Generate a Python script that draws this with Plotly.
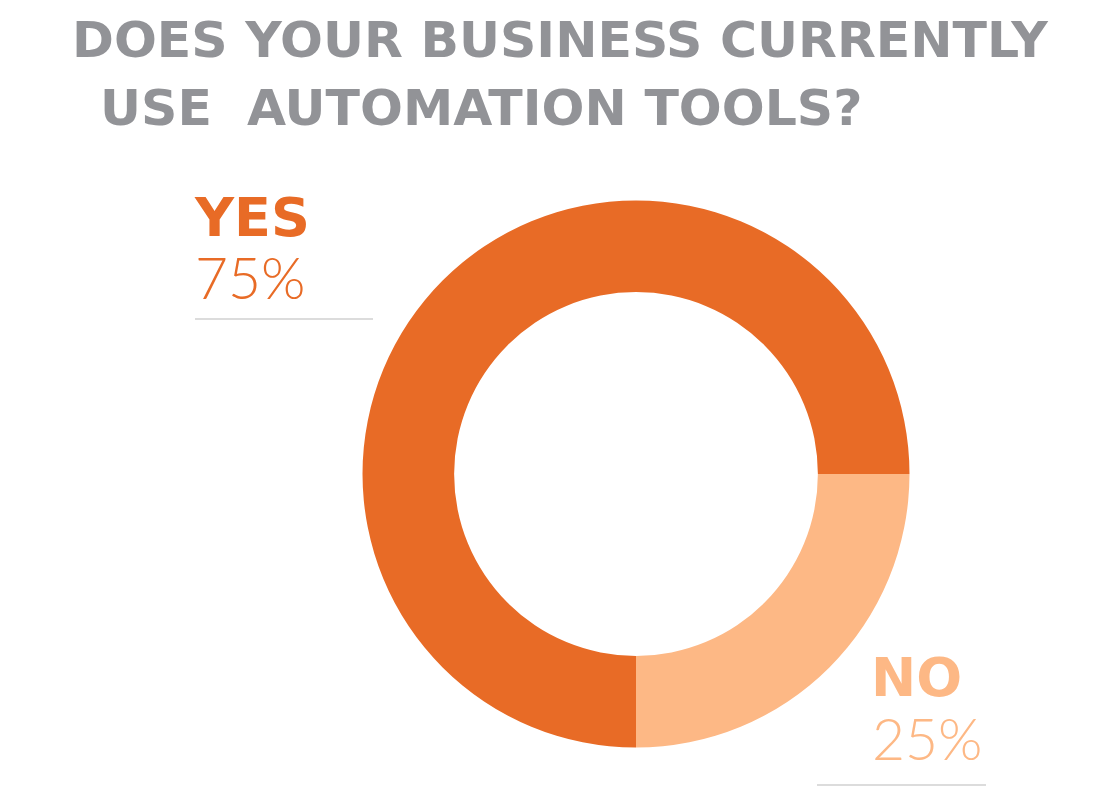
import plotly.graph_objects as go

labels = ["NO", "YES"]
values = [25, 75]
colors = ["#FDB885", "#E86B26"]
title_lines = ["DOES YOUR BUSINESS CURRENTLY", "USE  AUTOMATION TOOLS?"]

W, H = 1110, 792

def px(x):
    return x / W

def py(y):
    return 1 - y / H

fig = go.Figure()

fig.add_trace(go.Pie(
    labels=labels,
    values=values,
    hole=0.665,
    sort=False,
    direction="clockwise",
    rotation=90,
    marker=dict(colors=colors, line=dict(width=0)),
    textinfo="none",
    hoverinfo="label+percent",
    showlegend=False,
    domain=dict(x=[px(362.5), px(909.5)], y=[py(748), py(200)]),
))

title_font = dict(family="DejaVu Sans", size=50.5, color="#929397", weight="bold")
head_font = "DejaVu Sans"
pct_font = "Lato"

# title, two lines
fig.add_annotation(x=px(70), y=py(40), text=title_lines[0], showarrow=False,
                   xanchor="left", yanchor="middle", xref="paper", yref="paper",
                   font=title_font)
fig.add_annotation(x=px(98), y=py(107), text=title_lines[1], showarrow=False,
                   xanchor="left", yanchor="middle", xref="paper", yref="paper",
                   font=title_font)

# slice labels
fig.add_annotation(x=px(192), y=py(217), text=labels[1], showarrow=False,
                   xanchor="left", yanchor="middle", xref="paper", yref="paper",
                   font=dict(family=head_font, size=54, color=colors[1], weight="bold"))
fig.add_annotation(x=px(193), y=py(277), text=f"{values[1]}%", showarrow=False,
                   xanchor="left", yanchor="middle", xref="paper", yref="paper",
                   font=dict(family=pct_font, size=57, color=colors[1], weight=300))
fig.add_annotation(x=px(869), y=py(677), text=labels[0], showarrow=False,
                   xanchor="left", yanchor="middle", xref="paper", yref="paper",
                   font=dict(family=head_font, size=54, color=colors[0], weight="bold"))
fig.add_annotation(x=px(870), y=py(738), text=f"{values[0]}%", showarrow=False,
                   xanchor="left", yanchor="middle", xref="paper", yref="paper",
                   font=dict(family=pct_font, size=57, color=colors[0], weight=300))

# underline rules
fig.add_shape(type="line", xref="paper", yref="paper",
              x0=px(195), x1=px(373), y0=py(319), y1=py(319),
              line=dict(color="#DCDCDC", width=2))
fig.add_shape(type="line", xref="paper", yref="paper",
              x0=px(817), x1=px(986), y0=py(785), y1=py(785),
              line=dict(color="#DCDCDC", width=2))

fig.update_layout(
    width=W, height=H,
    margin=dict(l=0, r=0, t=0, b=0),
    paper_bgcolor="white",
    plot_bgcolor="white",
)

# drop the browser's default 8px body margin so the figure sits at 0,0
fig.write_html("out.html", config={"displayModeBar": False},
               post_script="document.body.style.margin='0';")
